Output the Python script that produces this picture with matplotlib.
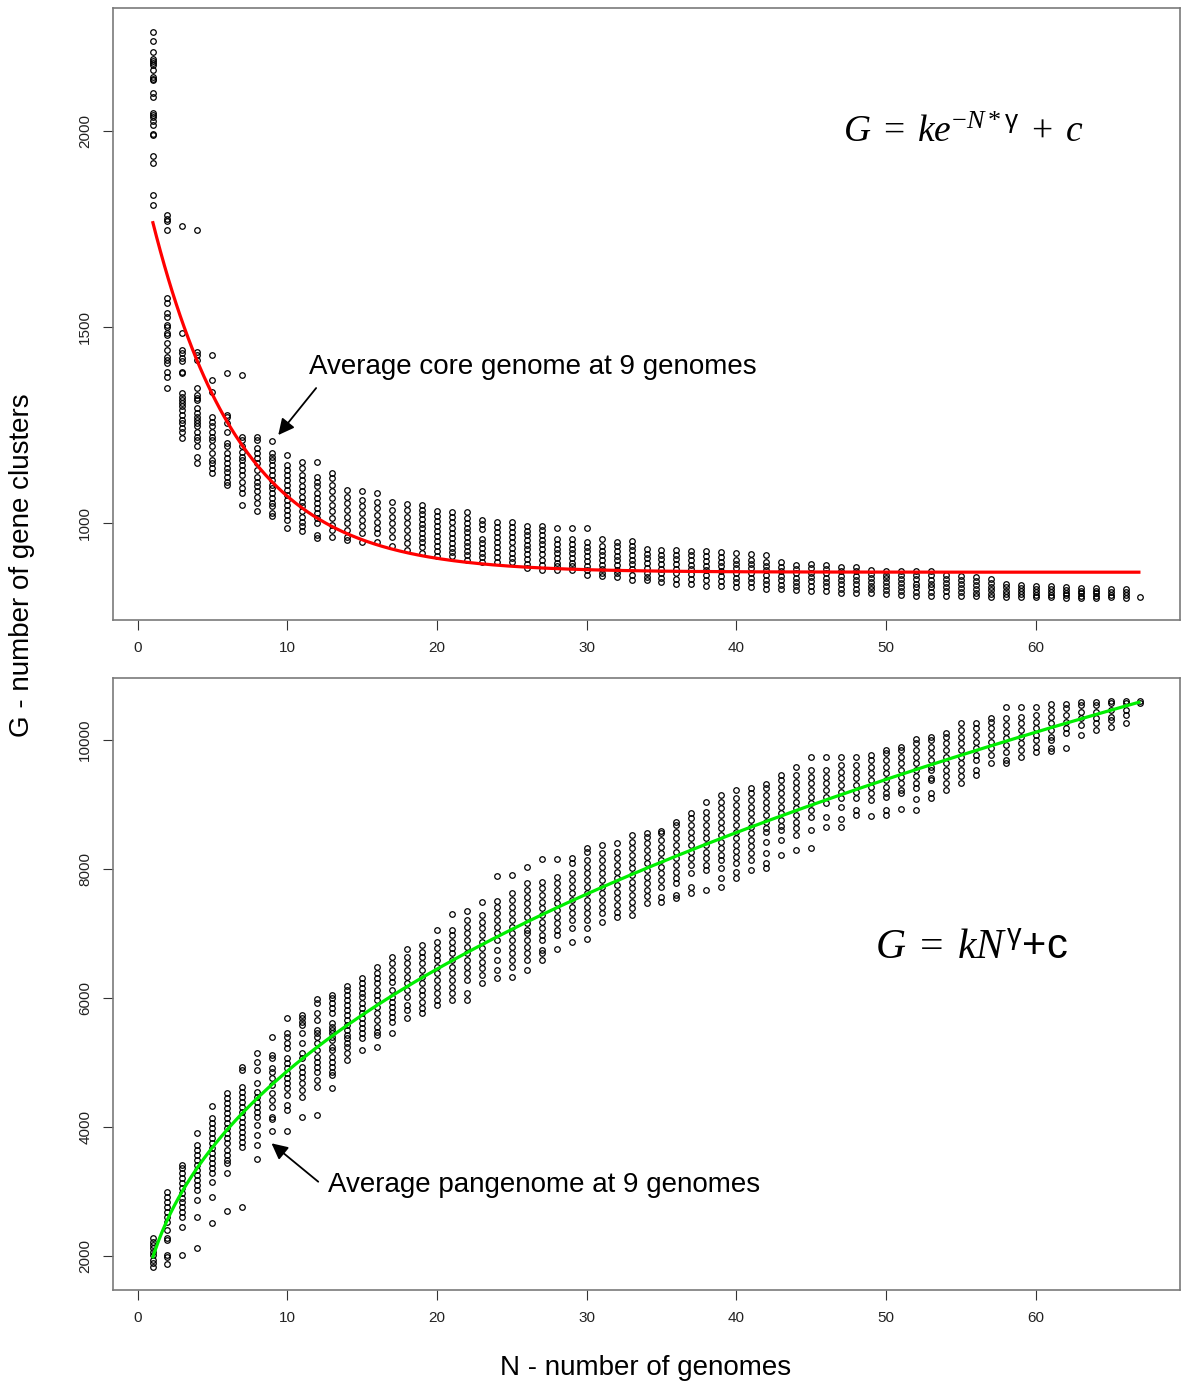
import matplotlib
matplotlib.use("Agg")
import matplotlib.pyplot as plt
import numpy as np

plt.rcParams['font.family'] = ['Liberation Sans', 'DejaVu Sans']
plt.rcParams['mathtext.fontset'] = 'custom'
plt.rcParams['mathtext.it'] = 'Liberation Serif:italic'
plt.rcParams['mathtext.rm'] = 'Liberation Serif'
plt.rcParams['mathtext.sf'] = 'Liberation Sans'

# ---------------- data ----------------
genomes = list(range(1, 68))

core_clusters = [
    [2253, 2229, 2202, 2184, 2179, 2173, 2168, 2156, 2137, 2133, 2131, 2097, 2086, 2046, 2042, 2035, 2025, 2015, 1993, 1991, 1935, 1918, 1836, 1812],
    [1786, 1776, 1771, 1748, 1574, 1561, 1535, 1526, 1505, 1501, 1484, 1480, 1458, 1441, 1424, 1416, 1407, 1386, 1373, 1344],
    [1757, 1484, 1441, 1433, 1420, 1412, 1386, 1382, 1331, 1322, 1314, 1305, 1297, 1288, 1276, 1263, 1254, 1242, 1233, 1216],
    [1748, 1437, 1429, 1416, 1344, 1327, 1318, 1314, 1293, 1280, 1271, 1263, 1254, 1246, 1233, 1220, 1212, 1195, 1169, 1152],
    [1429, 1365, 1335, 1271, 1258, 1246, 1233, 1220, 1212, 1195, 1178, 1161, 1152, 1140, 1127],
    [1382, 1276, 1271, 1254, 1233, 1203, 1195, 1178, 1165, 1152, 1140, 1131, 1118, 1105, 1097],
    [1378, 1220, 1212, 1195, 1182, 1169, 1161, 1148, 1135, 1122, 1105, 1089, 1076, 1046],
    [1220, 1212, 1191, 1178, 1165, 1152, 1135, 1118, 1105, 1093, 1080, 1067, 1050, 1029],
    [1209, 1178, 1169, 1161, 1148, 1135, 1122, 1110, 1097, 1089, 1076, 1063, 1050, 1042, 1025, 1018],
    [1173, 1148, 1135, 1122, 1110, 1097, 1084, 1071, 1059, 1046, 1033, 1020, 1008, 986],
    [1156, 1140, 1122, 1110, 1093, 1080, 1067, 1054, 1042, 1029, 1016, 1003, 991, 978],
    [1154, 1118, 1105, 1093, 1076, 1063, 1050, 1037, 1025, 1012, 999, 969, 961],
    [1127, 1114, 1097, 1080, 1063, 1046, 1029, 1012, 995, 982, 963],
    [1084, 1067, 1050, 1033, 1016, 999, 982, 965, 957],
    [1080, 1059, 1042, 1025, 1008, 991, 974, 952],
    [1077, 1054, 1037, 1020, 1003, 986, 974, 952],
    [1052, 1033, 1016, 999, 982, 965, 940],
    [1048, 1033, 1016, 999, 982, 965, 948, 931],
    [1046, 1034, 1022, 1010, 998, 986, 974, 962, 950, 938, 924],
    [1031, 1018, 1005, 992, 979, 966, 953, 940, 928, 916],
    [1027, 1014, 1001, 988, 975, 962, 949, 937, 926, 916],
    [1027, 1012, 1000, 988, 976, 964, 952, 940, 928, 917, 906],
    [1008, 996, 984, 960, 948, 936, 924, 912, 901],
    [1003, 990, 977, 964, 951, 938, 925, 912, 899],
    [1002, 989, 976, 963, 950, 937, 924, 911, 899],
    [993, 980, 968, 956, 944, 932, 920, 908, 896, 884],
    [993, 981, 969, 957, 945, 933, 921, 905, 892, 880],
    [988, 958, 946, 934, 922, 910, 898, 889, 880],
    [988, 958, 946, 934, 922, 910, 898, 889, 880],
    [988, 951, 939, 927, 915, 903, 891, 879, 867],
    [958, 941, 929, 917, 905, 893, 881, 873, 865],
    [952, 940, 928, 916, 904, 892, 880, 871, 863],
    [954, 942, 930, 918, 906, 894, 882, 868, 855],
    [933, 921, 909, 897, 885, 873, 863, 853],
    [931, 919, 907, 895, 883, 871, 860, 850],
    [931, 919, 907, 895, 883, 871, 857, 844],
    [929, 917, 905, 893, 881, 869, 856, 844],
    [927, 915, 903, 891, 879, 867, 853, 839],
    [925, 913, 901, 889, 877, 865, 852, 839],
    [924, 906, 895, 884, 872, 860, 848, 837],
    [920, 906, 895, 884, 872, 860, 848, 836],
    [917, 901, 890, 879, 867, 855, 843, 831],
    [899, 888, 877, 865, 853, 842, 831],
    [893, 882, 871, 860, 849, 839, 829],
    [895, 884, 873, 862, 851, 839, 827],
    [893, 882, 871, 860, 849, 838, 827],
    [887, 876, 865, 854, 843, 832, 822],
    [887, 876, 865, 854, 843, 832, 821],
    [880, 870, 860, 850, 840, 830, 821],
    [878, 868, 858, 848, 838, 828, 819],
    [878, 868, 857, 846, 836, 826, 816],
    [878, 867, 856, 845, 835, 824, 814],
    [877, 866, 855, 845, 835, 824, 814],
    [867, 857, 847, 837, 826, 814],
    [865, 855, 845, 834, 823, 812],
    [863, 852, 842, 832, 822, 812],
    [856, 846, 837, 828, 819, 810],
    [844, 836, 827, 818, 810],
    [842, 834, 826, 818, 810],
    [839, 831, 824, 817, 810],
    [838, 830, 823, 816, 810],
    [836, 829, 822, 815, 808],
    [833, 826, 820, 814, 808],
    [833, 826, 820, 814, 808],
    [831, 824, 817, 810],
    [830, 823, 815, 808],
    [810],
]

pan_clusters = [
    [2274, 2222, 2170, 2119, 2067, 2016, 1938, 1886, 1835],
    [2997, 2920, 2842, 2765, 2687, 2610, 2532, 2403, 2274, 2248, 2016, 1990, 1876],
    [3411, 3359, 3282, 3204, 3127, 3049, 2972, 2894, 2842, 2765, 2687, 2610, 2455, 2016],
    [3902, 3721, 3643, 3566, 3488, 3411, 3333, 3256, 3178, 3101, 3023, 2868, 2610, 2119],
    [4326, 4135, 4057, 3980, 3902, 3825, 3747, 3670, 3592, 3515, 3437, 3359, 3282, 3152, 2920, 2517],
    [4522, 4445, 4367, 4290, 4212, 4135, 4057, 3980, 3902, 3825, 3747, 3643, 3566, 3488, 3437, 3282, 2703],
    [4935, 4884, 4625, 4547, 4470, 4392, 4315, 4237, 4160, 4082, 4005, 3927, 3850, 3772, 3695, 2765],
    [5143, 5013, 4884, 4677, 4547, 4470, 4392, 4315, 4237, 4160, 4031, 3876, 3721, 3499],
    [5390, 5116, 5065, 4910, 4858, 4755, 4651, 4522, 4419, 4315, 4160, 4119, 3938],
    [5685, 5452, 5400, 5298, 5220, 5065, 4988, 4910, 4833, 4755, 4677, 4600, 4496, 4341, 4264, 3938],
    [5736, 5685, 5633, 5581, 5452, 5298, 5143, 5065, 4935, 4858, 4780, 4677, 4574, 4470, 4150],
    [5979, 5918, 5763, 5659, 5504, 5452, 5400, 5298, 5194, 5090, 5013, 4935, 4858, 4729, 4625, 4186],
    [6046, 5995, 5918, 5840, 5763, 5608, 5555, 5504, 5452, 5400, 5349, 5245, 5194, 5090, 5013, 4935, 4858, 4806, 4600],
    [6186, 6124, 6046, 5969, 5891, 5814, 5736, 5659, 5581, 5504, 5426, 5375, 5300, 5245, 5143, 5039],
    [6305, 6228, 6150, 6073, 6020, 5918, 5840, 5763, 5685, 5608, 5530, 5452, 5375, 5194],
    [6485, 6383, 6305, 6228, 6124, 6046, 5969, 5865, 5763, 5659, 5555, 5478, 5426, 5245],
    [6640, 6538, 6434, 6330, 6253, 6124, 6020, 5943, 5865, 5788, 5710, 5633, 5452],
    [6755, 6640, 6538, 6434, 6330, 6228, 6124, 6020, 5891, 5814, 5685],
    [6822, 6718, 6640, 6538, 6434, 6330, 6228, 6124, 6046, 5943, 5840, 5763],
    [7054, 6873, 6770, 6667, 6589, 6485, 6383, 6279, 6175, 6073, 5969, 5891],
    [7302, 7054, 6977, 6873, 6770, 6693, 6589, 6485, 6383, 6279, 6175, 6073, 5969],
    [7354, 7209, 7106, 7003, 6899, 6796, 6693, 6589, 6485, 6383, 6279, 6073, 5969],
    [7493, 7287, 7183, 7080, 6977, 6873, 6770, 6667, 6563, 6460, 6357, 6228],
    [7892, 7504, 7416, 7313, 7209, 7106, 7003, 6899, 6744, 6589, 6434, 6305],
    [7907, 7623, 7519, 7416, 7313, 7209, 7106, 7003, 6899, 6796, 6693, 6589, 6485, 6330],
    [8036, 7778, 7675, 7571, 7468, 7364, 7261, 7158, 7054, 7003, 6899, 6796, 6693, 6589, 6434],
    [8155, 7803, 7700, 7597, 7493, 7390, 7287, 7183, 7080, 6977, 6899, 6744, 6693, 6589],
    [8155, 7881, 7778, 7675, 7571, 7468, 7364, 7261, 7158, 7054, 6977, 6755],
    [8166, 8088, 7933, 7830, 7726, 7623, 7519, 7416, 7313, 7209, 7080, 6873],
    [8321, 8268, 8140, 8036, 7933, 7830, 7726, 7623, 7519, 7416, 7313, 7209, 7080, 6910],
    [8372, 8243, 8140, 8036, 7933, 7830, 7726, 7623, 7519, 7416, 7313, 7183],
    [8398, 8268, 8166, 8063, 7959, 7855, 7752, 7649, 7545, 7442, 7339, 7261],
    [8527, 8423, 8320, 8217, 8114, 8011, 7908, 7805, 7702, 7599, 7496, 7393, 7287],
    [8553, 8501, 8398, 8295, 8192, 8089, 7986, 7883, 7780, 7677, 7574, 7468],
    [8594, 8553, 8450, 8347, 8244, 8141, 8038, 7935, 7832, 7726, 7571, 7493],
    [8733, 8682, 8579, 8476, 8373, 8270, 8167, 8064, 7961, 7858, 7778, 7597, 7545],
    [8863, 8786, 8683, 8580, 8477, 8374, 8271, 8168, 8065, 7933, 7726, 7623],
    [9043, 8889, 8786, 8683, 8580, 8477, 8374, 8271, 8168, 8065, 7984, 7675],
    [9147, 9043, 8940, 8837, 8734, 8631, 8528, 8425, 8322, 8219, 8140, 8011, 7856, 7716],
    [9225, 9096, 8993, 8890, 8787, 8684, 8581, 8478, 8375, 8272, 8191, 8088, 7959, 7856],
    [9251, 9173, 9070, 8967, 8864, 8761, 8658, 8555, 8452, 8349, 8246, 8140, 7984],
    [9318, 9251, 9148, 9045, 8942, 8839, 8736, 8633, 8578, 8423, 8243, 8088, 8011],
    [9457, 9380, 9277, 9174, 9071, 8968, 8865, 8762, 8659, 8604, 8450, 8217],
    [9586, 9457, 9354, 9251, 9148, 9045, 8942, 8839, 8736, 8633, 8530, 8295],
    [9737, 9535, 9432, 9329, 9226, 9123, 9020, 8917, 8811, 8604, 8321],
    [9740, 9535, 9432, 9329, 9226, 9123, 9018, 8811, 8656],
    [9741, 9613, 9510, 9407, 9304, 9201, 9098, 8966, 8770, 8656],
    [9741, 9613, 9510, 9407, 9304, 9201, 9096, 8915, 8837],
    [9767, 9690, 9587, 9484, 9381, 9278, 9175, 9070, 8822],
    [9845, 9793, 9690, 9587, 9484, 9381, 9278, 9175, 9121, 8915, 8837],
    [9896, 9845, 9742, 9639, 9536, 9433, 9330, 9227, 9173, 8925],
    [10011, 9949, 9846, 9743, 9640, 9537, 9434, 9331, 9251, 9080, 8915],
    [10042, 10000, 9897, 9794, 9691, 9588, 9535, 9406, 9380, 9173, 9096],
    [10104, 10052, 9949, 9846, 9743, 9640, 9537, 9434, 9331, 9225],
    [10259, 10155, 10052, 9949, 9846, 9743, 9640, 9537, 9434, 9329],
    [10268, 10181, 10078, 9975, 9872, 9769, 9690, 9535, 9457],
    [10337, 10284, 10181, 10078, 9975, 9872, 9769, 9639],
    [10507, 10337, 10234, 10131, 10028, 9925, 9819, 9690, 9639],
    [10507, 10361, 10258, 10155, 10052, 9949, 9845, 9741],
    [10516, 10388, 10285, 10182, 10079, 10000, 9896, 9819],
    [10558, 10465, 10362, 10259, 10156, 10053, 10000, 9871, 9834],
    [10558, 10491, 10388, 10285, 10182, 10104, 9871],
    [10594, 10543, 10440, 10337, 10233, 10078],
    [10594, 10543, 10440, 10337, 10259, 10155],
    [10609, 10568, 10465, 10362, 10310, 10206],
    [10609, 10568, 10465, 10388, 10268],
    [10609, 10578],
]

# fitted model parameters
core_fit_k, core_fit_gamma, core_fit_c = 1062.0, 0.17, 874.0
pan_fit_k, pan_fit_gamma, pan_fit_c = 1780.0, 0.42, 184.0

x_ticks = [0, 10, 20, 30, 40, 50, 60]
core_y_ticks = [1000, 1500, 2000]
pan_y_ticks = [2000, 4000, 6000, 8000, 10000]

core_note = "Average core genome at 9 genomes"
pan_note = "Average pangenome at 9 genomes"
x_label = "N - number of genomes"
y_label = "G - number of gene clusters"

# ---------------- figure ----------------
W, H = 1187, 1385
fig = plt.figure(figsize=(W / 100, H / 100), dpi=100)
fig.patch.set_facecolor('white')

ax1 = fig.add_axes([113 / W, 1 - 620 / H, 1067 / W, 612 / H])
ax2 = fig.add_axes([113 / W, 1 - 1290 / H, 1067 / W, 612 / H])


def scatter_columns(ax, data):
    xs = np.concatenate([[n] * len(v) for n, v in zip(genomes, data)])
    ys = np.concatenate([np.asarray(v, float) for v in data])
    ax.plot(xs, ys, linestyle='none', marker='o', markerfacecolor='none',
            markeredgecolor='black', markersize=4.0, markeredgewidth=0.9)


def style(ax, ylim, yticks):
    ax.set_xlim(-1.64, 69.64)
    ax.set_ylim(*ylim)
    ax.set_xticks(x_ticks)
    ax.set_xticklabels([str(t) for t in x_ticks])
    ax.set_yticks(yticks)
    ax.set_yticklabels([str(t) for t in yticks], rotation=90, va='center')
    for s in ax.spines.values():
        s.set_color('#7a7a7a')
        s.set_linewidth(1.2)
    ax.tick_params(axis='both', direction='out', length=7, width=0.8,
                   color='#333333', labelsize=11, labelcolor='#222222')
    ax.tick_params(axis='x', pad=8)
    ax.tick_params(axis='y', pad=8)


scatter_columns(ax1, core_clusters)
nf = np.linspace(genomes[0], genomes[-1], 500)
ax1.plot(nf, core_fit_k * np.exp(-nf * core_fit_gamma) + core_fit_c,
         color='#ff0000', lw=2.3, solid_capstyle='butt')
style(ax1, (752, 2314), core_y_ticks)

scatter_columns(ax2, pan_clusters)
ax2.plot(nf, pan_fit_k * nf ** pan_fit_gamma + pan_fit_c,
         color='#00ee00', lw=2.3, solid_capstyle='butt')
style(ax2, (1473, 10961), pan_y_ticks)

# annotations
arrow = dict(arrowstyle='-|>', color='black', lw=1.3, mutation_scale=24,
             shrinkA=0, shrinkB=0)
ax1.annotate('', xy=(9.4, 1224), xytext=(11.93, 1344), arrowprops=arrow)
ax1.text(11.47, 1398, core_note, fontsize=20, ha='left', va='center')
ax2.annotate('', xy=(8.95, 3747), xytext=(12.07, 3152), arrowprops=arrow)
ax2.text(12.73, 3101, pan_note, fontsize=20, ha='left', va='center')

# formulas
fig.text(843 / W, 1 - 142 / H, r'$G\;=\;ke^{-N*\mathsf{\gamma}}\;+\;c$',
         fontsize=27, ha='left', va='baseline')
fig.text(875 / W, 1 - 958 / H, r'$G\;=\;kN^{\mathsf{\gamma}}\mathsf{+c}$',
         fontsize=30, ha='left', va='baseline')

# axis labels
fig.text(646 / W, 1 - 1368 / H, x_label, fontsize=20, ha='center', va='center')
fig.text(22 / W, 1 - 565 / H, y_label, fontsize=20, ha='center', va='center',
         rotation=90)

fig.savefig('out.png', dpi=100, facecolor='white')
